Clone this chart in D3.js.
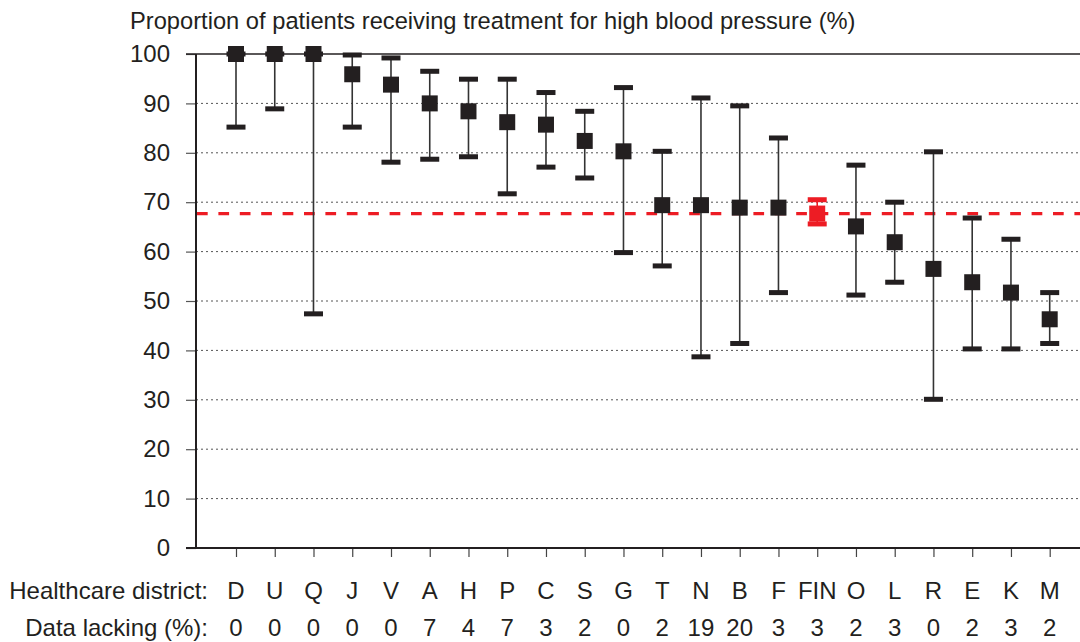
<!DOCTYPE html>
<html>
<head>
<meta charset="utf-8">
<script src="https://cdn.jsdelivr.net/npm/d3@7"></script>
<style>
  html, body { margin: 0; padding: 0; background: #fff; }
  svg { display: block; font-family: "Liberation Sans", Arial, sans-serif; }
</style>
</head>
<body>
<svg id="chart" width="1080" height="642"></svg>
<script>
// Healthcare districts, ordered by share of treated patients
const districts = ["D","U","Q","J","V","A","H","P","C","S","G","T","N","B","F","FIN","O","L","R","E","K","M"];
// Point estimate (%)
const estimate = [100,100,100,95.9,93.8,90.0,88.4,86.2,85.7,82.4,80.3,69.4,69.4,68.9,68.9,67.7,65.1,61.9,56.5,53.8,51.7,46.3];
// Lower and upper confidence limits (%)
const lower = [85.2,88.9,47.4,85.2,78.1,78.7,79.2,71.7,77.1,74.9,59.8,57.1,38.7,41.4,51.7,65.6,51.2,53.8,30.1,40.3,40.3,41.4];
const upper = [100,100,100,99.8,99.2,96.5,94.9,94.9,92.2,88.4,93.2,80.3,91.1,89.5,83.0,70.5,77.5,70.0,80.2,66.8,62.5,51.7];
// Share of records with missing data (%)
const lacking = [0,0,0,0,0,7,4,7,3,2,0,2,19,20,3,3,2,3,0,2,3,2];
const yTicks = [0,10,20,30,40,50,60,70,80,90,100];
const national = "FIN";

const ink = "#231f20", red = "#ed1c24";
const fontSize = 24;
const svg = d3.select("#chart");
const plotLeft = 196, plotRight = 1080, plotTop = 54, plotBottom = 548;

const x = d3.scalePoint().domain(districts).range([236, 1049.7]);
const y = d3.scaleLinear().domain([0, 100]).range([plotBottom, plotTop]);

const rows = districts.map((d, i) => ({ d, v: estimate[i], lo: lower[i], hi: upper[i], miss: lacking[i] }));

// Title
svg.append("text").attr("x", 130).attr("y", 29)
  .attr("font-size", 23.7).attr("fill", ink)
  .text("Proportion of patients receiving treatment for high blood pressure (%)");

// Gridlines (dotted) and y ticks
const g = svg.append("g");
g.selectAll("line.grid").data(yTicks.filter(t => t > 0 && t < 100)).join("line")
  .attr("x1", plotLeft).attr("x2", plotRight)
  .attr("y1", d => y(d)).attr("y2", d => y(d))
  .attr("stroke", "#555").attr("stroke-width", 1).attr("stroke-dasharray", "2,3");

const yAxis = d3.axisLeft(y).tickValues(yTicks).tickSize(10).tickPadding(16);
const ya = svg.append("g").attr("transform", `translate(${plotLeft},0)`).call(yAxis);
ya.select(".domain").remove();
ya.selectAll(".tick line").attr("stroke", "#555").attr("stroke-width", 1.2);
ya.selectAll(".tick text").attr("font-size", fontSize).attr("fill", ink).attr("font-family", "Liberation Sans, Arial, sans-serif");

// Frame: top line at 100, left axis
svg.append("line").attr("x1", plotLeft - 10).attr("x2", plotRight).attr("y1", y(100)).attr("y2", y(100))
  .attr("stroke", ink).attr("stroke-width", 1.6);
svg.append("line").attr("x1", plotLeft).attr("x2", plotLeft).attr("y1", y(100)).attr("y2", y(0))
  .attr("stroke", ink).attr("stroke-width", 2);

// Bottom axis with downward ticks
const xAxis = d3.axisBottom(x).tickSize(9).tickFormat("");
const xa = svg.append("g").attr("transform", `translate(0,${y(0)})`).call(xAxis);
xa.select(".domain").remove();
xa.selectAll(".tick line").attr("stroke", "#444").attr("stroke-width", 1.2);
svg.append("line").attr("x1", plotLeft - 10).attr("x2", plotRight).attr("y1", y(0)).attr("y2", y(0))
  .attr("stroke", ink).attr("stroke-width", 2);

// National reference line
const natVal = estimate[districts.indexOf(national)];
svg.append("line").attr("x1", plotLeft + 1).attr("x2", plotRight).attr("y1", y(natVal)).attr("y2", y(natVal))
  .attr("stroke", red).attr("stroke-width", 3.2).attr("stroke-dasharray", "10.7,10.7");

// Error bars and markers
const marks = svg.append("g");
const col = d => d.d === national ? red : ink;
marks.selectAll("line.whisker").data(rows).join("line")
  .attr("x1", d => x(d.d)).attr("x2", d => x(d.d))
  .attr("y1", d => y(d.hi)).attr("y2", d => y(d.lo))
  .attr("stroke", d => d.d === national ? red : "#333").attr("stroke-width", 1.6);
const capW = 19, capH = 5;
["lo", "hi"].forEach(k => {
  marks.selectAll("rect.cap-" + k).data(rows).join("rect").attr("class", "cap-" + k)
    .attr("x", d => x(d.d) - capW / 2).attr("y", d => y(d[k]) - capH / 2)
    .attr("width", capW).attr("height", capH).attr("fill", col);
});
const sq = 16;
marks.selectAll("rect.pt").data(rows).join("rect").attr("class", "pt")
  .attr("x", d => x(d.d) - sq / 2).attr("y", d => y(d.v) - sq / 2)
  .attr("width", sq).attr("height", sq).attr("fill", col);

// Bottom table: district names and missing data
const tbl = svg.append("g").attr("font-size", fontSize).attr("fill", ink);
tbl.append("text").attr("x", 208).attr("y", 599).attr("text-anchor", "end").text("Healthcare district:");
tbl.append("text").attr("x", 208).attr("y", 636).attr("text-anchor", "end").text("Data lacking (%):");
tbl.selectAll("text.name").data(rows).join("text").attr("class", "name")
  .attr("x", d => x(d.d)).attr("y", 599).attr("text-anchor", "middle").text(d => d.d);
tbl.selectAll("text.miss").data(rows).join("text").attr("class", "miss")
  .attr("x", d => x(d.d)).attr("y", 636).attr("text-anchor", "middle").text(d => d.miss);
</script>
</body>
</html>
